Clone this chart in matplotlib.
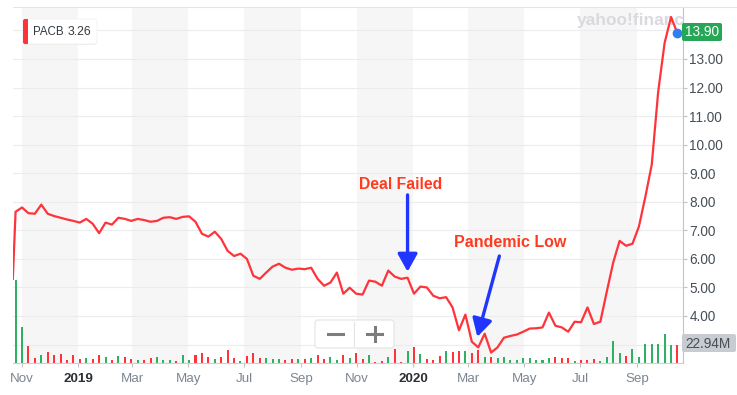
import matplotlib
matplotlib.use('Agg')
import matplotlib.pyplot as plt
import matplotlib.dates as mdates
import matplotlib.transforms as mtrans
from matplotlib.patches import FancyBboxPatch, Rectangle
from matplotlib.lines import Line2D
import numpy as np
import pandas as pd

plt.rcParams['font.family'] = ['Liberation Sans', 'DejaVu Sans']

# PACB weekly closes
first_day = pd.Timestamp('2018-10-22')
first_close = 5.30
weeks = pd.date_range('2018-10-25', periods=104, freq='7D')
close = [7.65, 7.80, 7.60, 7.58, 7.90, 7.58, 7.50, 7.44, 7.38, 7.33,
         7.27, 7.40, 7.23, 6.90, 7.27, 7.20, 7.44, 7.40, 7.33, 7.40,
         7.36, 7.30, 7.33, 7.44, 7.46, 7.40, 7.47, 7.49, 7.30, 6.88,
         6.78, 6.95, 6.70, 6.28, 6.10, 6.18, 6.00, 5.41, 5.30, 5.52,
         5.73, 5.83, 5.69, 5.62, 5.66, 5.64, 5.69, 5.30, 5.06, 5.17,
         5.52, 4.78, 4.99, 4.78, 4.75, 5.24, 5.20, 5.06, 5.59, 5.38,
         5.30, 5.34, 4.78, 5.03, 5.00, 4.71, 4.62, 4.66, 4.30, 3.50,
         4.05, 3.10, 2.90, 3.38, 2.72, 2.90, 3.24, 3.30, 3.35, 3.45,
         3.56, 3.57, 3.60, 4.12, 3.66, 3.60, 3.45, 3.80, 3.78, 4.30,
         3.72, 3.80, 4.85, 5.87, 6.63, 6.46, 6.53, 7.13, 8.17, 9.30,
         11.85, 13.56, 14.47, 13.90]

# weekly volume, millions of shares
volume_m = [105.7, 45.9, 21.7, 6.4, 10.2, 14.0, 10.2, 11.5, 3.8, 10.2,
            5.1, 6.4, 5.1, 10.2, 7.6, 3.8, 8.9, 7.6, 5.1, 3.8,
            3.8, 6.4, 7.6, 3.8, 3.8, 2.5, 10.2, 3.8, 10.2, 12.7,
            7.6, 5.1, 7.6, 16.6, 6.4, 2.5, 8.9, 12.7, 6.4, 6.4,
            5.1, 5.1, 3.8, 5.1, 5.1, 5.1, 6.4, 10.2, 5.1, 7.6,
            3.8, 10.2, 6.4, 12.7, 5.1, 10.2, 1.3, 2.5, 7.6, 17.8,
            1.3, 15.3, 20.4, 11.5, 5.1, 3.8, 8.9, 15.3, 14.0, 15.3,
            15.3, 12.7, 16.6, 7.6, 7.6, 6.4, 7.6, 3.8, 3.8, 6.4,
            6.4, 3.8, 3.8, 6.4, 7.6, 6.4, 6.4, 2.5, 3.8, 3.8,
            5.1, 2.5, 7.6, 28.0, 12.7, 8.9, 17.8, 7.6, 24.2, 24.2,
            24.2, 36.9, 22.9, 22.94]

# G = up week (green bar), R = down week (red bar)
bar_dir = ("GGRRGRRRRRRGRRGRGRRGRRGGGRGGRRRGRRR"
           "GRRRGGGRRGRGRRGGRGRRGRRGRRGRGRRRGRR"
           "GRRGRGGGGGGGGGRRRGRRRGGGGRGGGGGGGR")

ticker = 'PACB'
hover_price = '3.26'
last_price = '13.90'
last_volume = '22.94M'
price_ticks = list(range(3, 15))
month_ticks = pd.date_range('2018-11-01', '2020-09-01', freq='2MS')
shaded_months = pd.date_range('2018-11-01', '2020-07-01', freq='4MS')

RED = '#ff333a'
GREEN = '#2fb063'
BLUE = '#2036ff'
NOTE = '#ff3b1f'

W, H = 737, 395
fig = plt.figure(figsize=(W / 100, H / 100), dpi=100)
# pixel coords, origin top-left
PX = mtrans.Affine2D().scale(1, -1).translate(0, H).scale(1 / 100) + fig.dpi_scale_trans

ax = fig.add_axes([13 / W, 1 - 363 / H, 670 / W, 356 / H])

base = mdates.date2num(pd.Timestamp('2018-11-01'))
ppd = 0.918  # px per day

for m in shaded_months:
    ax.axvspan(m, m + pd.DateOffset(months=2), color='#f6f6f6', lw=0, zorder=0)

# volume bars sit in the bottom band of the same axes
vol_top = 453.5
vtrans = mtrans.blended_transform_factory(ax.transData, ax.transAxes)
bar_colors = [GREEN if d == 'G' else RED for d in bar_dir]
ax.bar(weeks, np.array(volume_m) / vol_top, width=2.2, color=bar_colors,
       transform=vtrans, zorder=2, lw=0)

ax.plot([first_day] + list(weeks), [first_close] + close, color=RED, lw=1.6, zorder=3)
ax.plot(weeks[-1:], close[-1:], 'o', color='#2f7ff0', ms=6, zorder=4, clip_on=False)

ax.set_xlim(base - 9 / ppd, base + 661 / ppd)
ax.set_ylim(2.354, 14.82)

ax.yaxis.tick_right()
ax.set_yticks(price_ticks)
ax.set_yticklabels(['' if v in (3, 14) else f'{v:.2f}' for v in price_ticks])
ax.tick_params(axis='y', length=3, width=0.8, color='#c4c4c4', pad=1.5,
               labelsize=9.8, labelcolor='#464e56')
ax.set_axisbelow(True)
ax.grid(axis='y', color='#ececec', lw=0.8)

ax.set_xticks(month_ticks)
ax.set_xticklabels([str(d.year) if d.month == 1 else d.strftime('%b') for d in month_ticks])
ax.tick_params(axis='x', length=3, width=0.8, color='#c4c4c4', pad=4,
               labelsize=9.6, labelcolor='#7c8691')
for d, lab in zip(month_ticks, ax.get_xticklabels()):
    if d.month == 1:
        lab.set_color('#2b2f33')
        lab.set_fontweight('bold')

ax.spines['left'].set_visible(False)
ax.spines['top'].set_color('#e4e4e4')
ax.spines['right'].set_color('#c4c4c4')
ax.spines['bottom'].set_color('#cfcfcf')
for s in ax.spines.values():
    s.set_linewidth(0.8)
fig.add_artist(Line2D([683, W], [7, 7], color='#e4e4e4', lw=0.8, transform=PX))

# annotations
ax.text(pd.Timestamp('2019-12-18'), 8.59, 'Deal Failed', color=NOTE, fontsize=11.3,
        fontweight='bold', ha='center', va='center', zorder=5)
ax.annotate('', xy=(pd.Timestamp('2019-12-26'), 5.55), xytext=(pd.Timestamp('2019-12-26'), 8.24),
            arrowprops=dict(arrowstyle='-|>,head_length=0.9,head_width=0.5', lw=2.4,
                            color=BLUE, shrinkA=0, shrinkB=0, mutation_scale=12), zorder=5)
ax.text(pd.Timestamp('2020-04-16'), 6.56, 'Pandemic Low', color=NOTE, fontsize=11.5,
        fontweight='bold', ha='center', va='center', zorder=5)
ax.annotate('', xy=(pd.Timestamp('2020-03-11'), 3.27), xytext=(pd.Timestamp('2020-04-04'), 6.10),
            arrowprops=dict(arrowstyle='-|>,head_length=0.9,head_width=0.5', lw=2.4,
                            color=BLUE, shrinkA=0, shrinkB=0, mutation_scale=12), zorder=5)

# watermark
ax.text(577, 21, 'yahoo!finance', transform=PX, color='#d9dade', fontsize=12.5,
        fontweight='bold', va='center', ha='left', clip_on=True, zorder=1)

# ticker box
fig.add_artist(FancyBboxPatch((23, 20), 74, 25, boxstyle='round,pad=0,rounding_size=3',
                              fc='#ececec', ec='none', transform=PX))
fig.add_artist(FancyBboxPatch((23, 19), 74, 25, boxstyle='round,pad=0,rounding_size=3',
                              fc='white', ec='#f0f0f0', lw=0.5, transform=PX))
fig.add_artist(FancyBboxPatch((23, 19), 5, 25, boxstyle='round,pad=0,rounding_size=2',
                              fc=RED, ec='none', transform=PX))
fig.add_artist(Rectangle((26, 19), 2, 25, fc=RED, ec='none', transform=PX))
fig.text(33, 32, ticker, transform=PX, fontsize=8.3, color='#333a40', va='center')
fig.text(68, 32, hover_price, transform=PX, fontsize=8.8, color='#333a40', va='center')

# last price / last volume badges
fig.add_artist(FancyBboxPatch((682, 23), 40, 18, boxstyle='round,pad=0,rounding_size=2',
                              fc='#27a657', ec='none', transform=PX))
fig.text(702, 32.5, last_price, transform=PX, fontsize=9.8, color='white', ha='center', va='center')
fig.add_artist(FancyBboxPatch((682, 334), 54, 18, boxstyle='round,pad=0,rounding_size=2',
                              fc='#c8cbd0', ec='none', transform=PX))
fig.text(708, 343.5, last_volume, transform=PX, fontsize=9.8, color='#464e56', ha='center', va='center')

# zoom control
fig.add_artist(FancyBboxPatch((315, 320), 79, 28, boxstyle='round,pad=0,rounding_size=3',
                              fc='white', ec='#e4e4e4', lw=0.8, transform=PX))
fig.add_artist(Line2D([354, 354], [322, 346], color='#e4e4e4', lw=0.8, transform=PX))
fig.add_artist(Line2D([328, 343], [334, 334], color='#7d7d7d', lw=2.2, transform=PX))
fig.add_artist(Line2D([367, 382], [334, 334], color='#7d7d7d', lw=2.2, transform=PX))
fig.add_artist(Line2D([374.5, 374.5], [327, 341], color='#7d7d7d', lw=2.2, transform=PX))

fig.savefig('out.png', dpi=100)
